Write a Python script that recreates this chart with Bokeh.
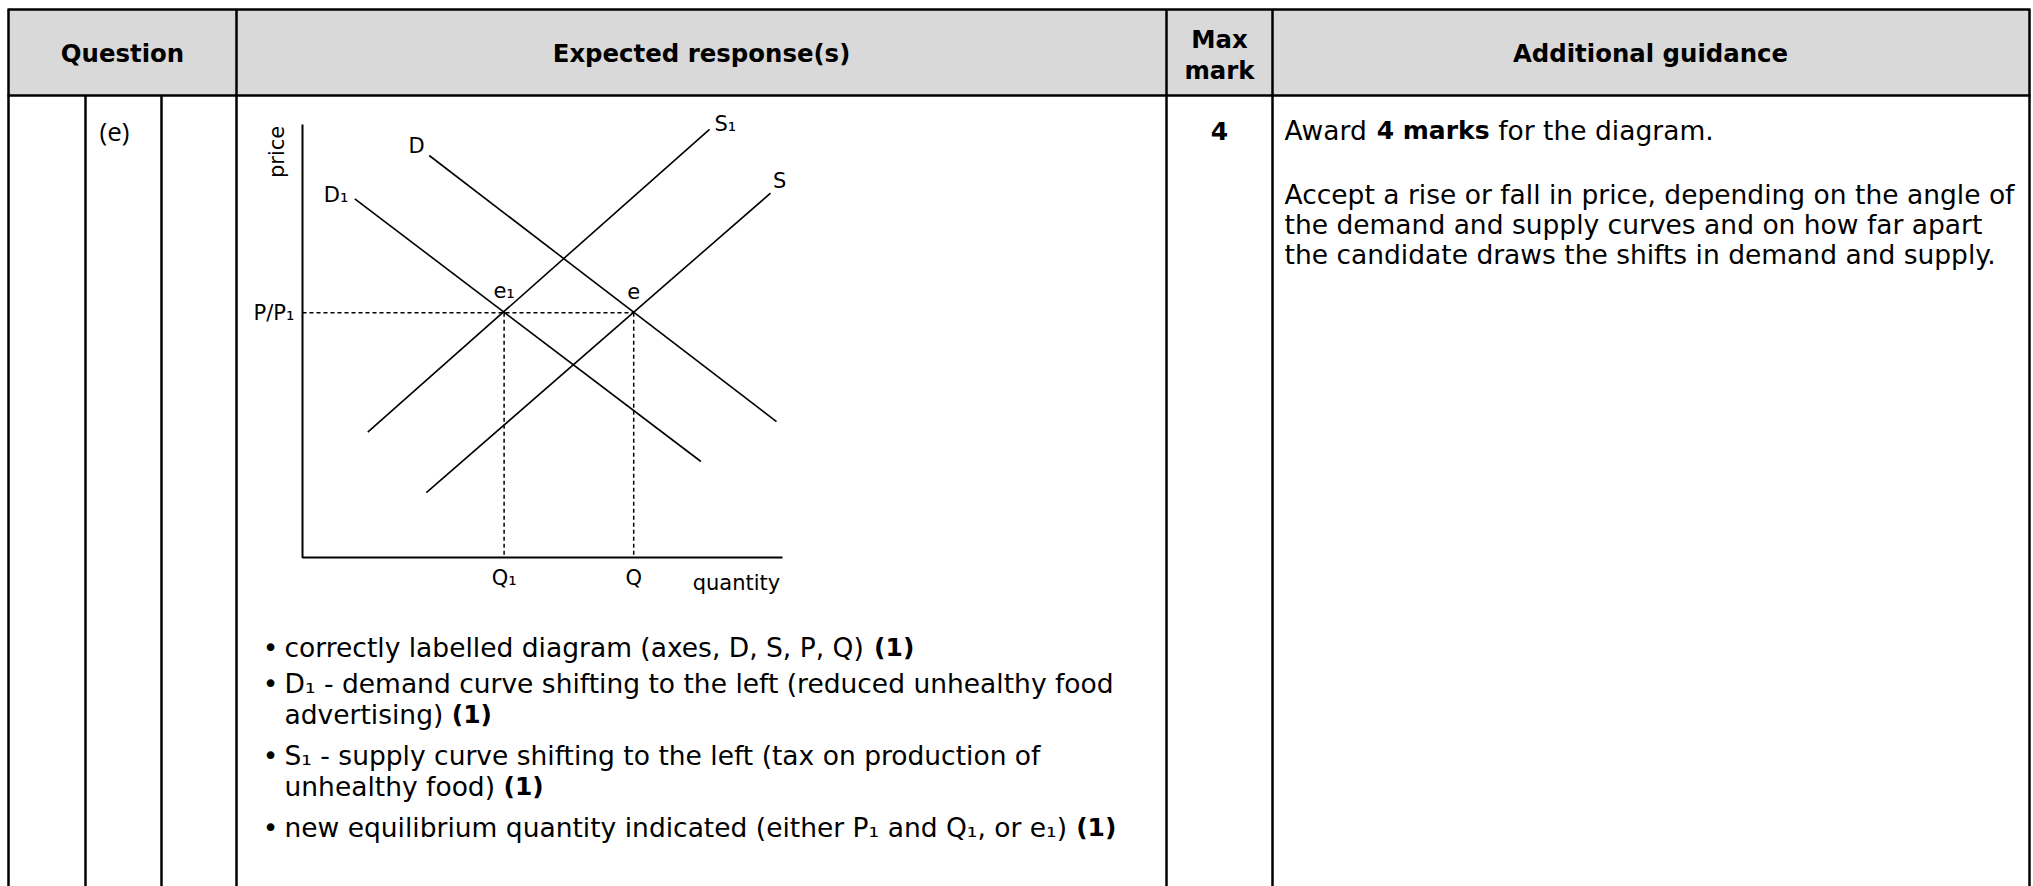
from bokeh.plotting import figure
from bokeh.models import Range1d
from bokeh.core.properties import value
from bokeh.embed import file_html
from bokeh.resources import INLINE
import math

# ---------------- data: supply / demand diagram (quantity, price units) ----------------
D_q = [2.64, 9.875]
D_p = [8.375, 2.83]
D1_q = [1.09, 8.30]
D1_p = [7.47, 2.00]
S1_q = [1.36, 8.48]
S1_p = [2.61, 8.92]
S_q = [2.58, 9.75]
S_p = [1.35, 7.59]
P_eq = 5.1          # P / P1
Q1_eq = 4.2         # new equilibrium quantity
Q_eq = 6.9          # original equilibrium quantity
axis_q_max = 10.0
axis_p_max = 9.02

curve_labels = ["D", "D\u2081", "S\u2081", "S"]
curve_label_q = [2.375, 0.70, 8.81, 9.94]
curve_label_p = [8.58, 7.55, 9.04, 7.85]

# ---------------- table text ----------------
headers = ["Question", "Expected response(s)", "Max", "mark", "Additional guidance"]
part_label = "(e)"
max_mark = "4"
award_line = [("Award ", False), ("4 marks ", True), ("for the diagram.", False)]
guidance_lines = [
    "Accept a rise or fall in price, depending on the angle of",
    "the demand and supply curves and on how far apart",
    "the candidate draws the shifts in demand and supply.",
]
bullet_lines = [
    [("correctly labelled diagram (axes, D, S, P, Q) ", False), ("(1)", True)],
    [("D\u2081 - demand curve shifting to the left (reduced unhealthy food", False)],
    [("advertising) ", False), ("(1)", True)],
    [("S\u2081 - supply curve shifting to the left (tax on production of", False)],
    [("unhealthy food) ", False), ("(1)", True)],
    [("new equilibrium quantity indicated (either P\u2081 and Q\u2081, or e\u2081) ", False), ("(1)", True)],
]
bullet_has_dot = [True, True, False, True, False, True]

# ---------------- layout ----------------
W, H = 2033, 886
FONT = "DejaVu Sans"
BODY_PX = 26.5
BOLD_PX = 25.0
HEAD_PX = 24.4

# approximate DejaVu Sans advance widths (em) used to place bold runs after regular runs
REG_W = {' ': .318, '(': .390, ')': .390, ',': .318, '-': .361, '.': .318, 'A': .684, 'D': .770,
         'P': .603, 'Q': .787, 'S': .635, 'a': .613, 'b': .635, 'c': .550, 'd': .635, 'e': .615,
         'f': .352, 'g': .635, 'h': .634, 'i': .278, 'k': .579, 'l': .278, 'm': .974, 'n': .634,
         'o': .612, 'p': .635, 'q': .635, 'r': .411, 's': .521, 't': .392, 'u': .634, 'v': .592,
         'w': .818, 'x': .592, 'y': .592, '\u2081': .408}
BOLD_W = {' ': .348, '(': .457, ')': .457, '1': .696, '4': .696, 'm': 1.042, 'a': .675,
          'r': .493, 'k': .665, 's': .595}

def run_width(s, bold):
    table = BOLD_W if bold else REG_W
    size = BOLD_PX if bold else BODY_PX
    return sum(table.get(ch, 0.6) for ch in s) * size

p = figure(width=W, height=H, x_range=Range1d(0, W), y_range=Range1d(H, 0),
           x_axis_type=None, y_axis_type=None, output_backend="svg",
           toolbar_location=None, min_border=0)
p.grid.visible = False
p.outline_line_color = None
p.background_fill_color = "white"
p.border_fill_color = "white"

# diagram coordinate system (origin of axes at page pixel 302,557; 48 px per unit)
ORG_X, ORG_Y, UNIT = 302, 557, 48.0
p.extra_x_ranges = {"dq": Range1d((0 - ORG_X) / UNIT, (W - ORG_X) / UNIT)}
p.extra_y_ranges = {"dp": Range1d((ORG_Y - H) / UNIT, (ORG_Y - 0) / UNIT)}
DR = dict(x_range_name="dq", y_range_name="dp")

# table
LEFT, RIGHT, TOP, HEAD_B, BOT = 8, 2029, 9, 95, H + 2
col_full = [LEFT, 236, 1166, 1272, RIGHT]
col_body = [85, 161]
p.quad(left=[LEFT], right=[RIGHT], top=[TOP], bottom=[HEAD_B], fill_color="#d9d9d9", line_color=None)
p.segment(x0=[LEFT - 1, LEFT - 1], x1=[RIGHT + 1, RIGHT + 1], y0=[TOP, HEAD_B], y1=[TOP, HEAD_B],
          line_color="black", line_width=2.5)
p.segment(x0=col_full, x1=col_full, y0=[TOP] * len(col_full), y1=[BOT] * len(col_full),
          line_color="black", line_width=2.5)
p.segment(x0=col_body, x1=col_body, y0=[HEAD_B] * 2, y1=[BOT] * 2,
          line_color="black", line_width=2.5)

def txt(x, y, s, size=None, bold=False, align="left", font=FONT, angle=0.0):
    if size is None:
        size = BOLD_PX if bold else BODY_PX
    p.text(x=[x], y=[y], text=[s], text_font=value(font), text_font_size=f"{size}px",
           text_font_style="bold" if bold else "normal", text_align=align,
           text_baseline="middle", text_color="black", angle=angle)

def runs(x, y, parts):
    for s, b in parts:
        txt(x, y, s, bold=b)
        x += run_width(s, b)

# headers
txt(122, 53, headers[0], size=HEAD_PX, bold=True, align="center")
txt(701, 53, headers[1], size=HEAD_PX, bold=True, align="center")
txt(1219, 39, headers[2], size=HEAD_PX, bold=True, align="center")
txt(1219, 70, headers[3], size=HEAD_PX, bold=True, align="center")
txt(1650, 53, headers[4], size=HEAD_PX, bold=True, align="center")

# body row
txt(114, 130, part_label, size=26, align="center", font="Open Sans")
txt(1219, 130, max_mark, bold=True, align="center")
runs(1284, 130, award_line)
for i, line in enumerate(guidance_lines):
    txt(1284, 194 + 30 * i, line)

bullet_y = [647, 683, 714, 755, 786, 827]
for i, parts in enumerate(bullet_lines):
    y = bullet_y[i]
    if bullet_has_dot[i]:
        txt(270, y, "\u2022", align="center")
    runs(284, y, parts)

# diagram: axes
p.line(x=[0, 0, axis_q_max], y=[axis_p_max, 0, 0], line_color="black", line_width=2, **DR)
# curves
for qs, ps in [(D_q, D_p), (D1_q, D1_p), (S1_q, S1_p), (S_q, S_p)]:
    p.line(x=qs, y=ps, line_color="black", line_width=1.6, **DR)
# dashed guides
p.line(x=[0, Q_eq], y=[P_eq, P_eq], line_color="black", line_width=1.5, line_dash="4 3", **DR)
p.line(x=[Q1_eq, Q1_eq], y=[P_eq, 0], line_color="black", line_width=1.5, line_dash="4 3", **DR)
p.line(x=[Q_eq, Q_eq], y=[P_eq, 0], line_color="black", line_width=1.5, line_dash="4 3", **DR)

DFONT = "21px"
common = dict(text_font=value(FONT), text_font_size=DFONT, text_baseline="middle",
              text_color="black", **DR)
p.text(x=curve_label_q, y=curve_label_p, text=curve_labels, text_align="center", **common)
p.text(x=[Q1_eq, Q_eq], y=[P_eq + 0.46, P_eq + 0.46], text=["e\u2081", "e"], text_align="center", **common)
p.text(x=[-0.17], y=[P_eq], text=["P/P\u2081"], text_align="right", **common)
p.text(x=[Q1_eq, Q_eq], y=[-0.42, -0.42], text=["Q\u2081", "Q"], text_align="center", **common)
p.text(x=[9.04], y=[-0.54], text=["quantity"], text_align="center", **common)
p.text(x=[-0.54], y=[8.45], text=["price"], text_align="center", angle=math.pi / 2, **common)

open("out.html", "w").write(file_html(p, INLINE))
